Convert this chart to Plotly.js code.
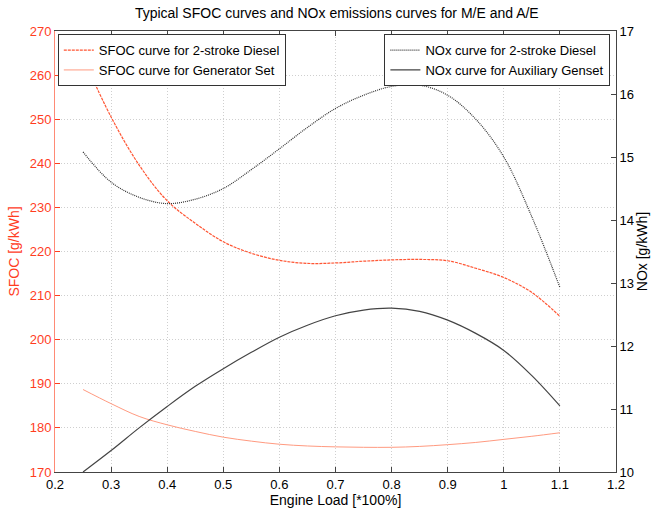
<!DOCTYPE html>
<html>
<head>
<meta charset="utf-8">
<script src="https://cdn.plot.ly/plotly-3.0.1.min.js"></script>
<style>html,body{margin:0;padding:0;background:#fff;}#chart{width:654px;height:511px;}</style>
</head>
<body>
<div id="chart"></div>
<script>
const engineLoad = [0.25,0.3,0.35,0.4,0.45,0.5,0.55,0.6,0.65,0.7,0.75,0.8,0.85,0.9,0.95,1.0,1.05,1.1];
const sfoc2Stroke = [264,250.5,239.6,231.5,226.4,222.2,219.6,218.0,217.3,217.4,217.8,218.1,218.2,217.9,216.2,214.1,210.7,205.3];
const sfocGenset = [188.7,185.5,182.6,180.7,179.2,177.9,177.0,176.3,175.9,175.7,175.6,175.6,175.8,176.2,176.7,177.4,178.1,178.9];
const nox2Stroke = [15.08,14.6,14.36,14.26,14.33,14.5,14.8,15.13,15.47,15.77,15.98,16.12,16.14,15.98,15.6,15.0,14.05,12.93];
const noxAux = [10.0,10.34,10.7,11.04,11.36,11.64,11.9,12.14,12.33,12.48,12.57,12.6,12.55,12.41,12.2,11.93,11.53,11.05];
const xTicks = [0.2,0.3,0.4,0.5,0.6,0.7,0.8,0.9,1,1.1,1.2];
const sfocTicks = [170,180,190,200,210,220,230,240,250,260,270];
const noxTicks = [10,11,12,13,14,15,16,17];

const FONT = "Liberation Sans, Arial, sans-serif";
const RED = "#ff3d1f";
const GRID = "#cfcfcf";

const traces = [
  {x: engineLoad, y: sfoc2Stroke, name: "SFOC curve for 2-stroke Diesel", mode: "lines",
   line: {color: "#ff5533", width: 1.2, shape: "spline", dash: "3px,1px"}, yaxis: "y", legend: "legend"},
  {x: engineLoad, y: sfocGenset, name: "SFOC curve for Generator Set", mode: "lines",
   line: {color: "#ff9a80", width: 1, shape: "spline"}, yaxis: "y", legend: "legend"},
  {x: engineLoad, y: nox2Stroke, name: "NOx curve for 2-stroke Diesel", mode: "lines",
   line: {color: "#333333", width: 1.2, shape: "spline", dash: "1px,1px"}, yaxis: "y2", legend: "legend2"},
  {x: engineLoad, y: noxAux, name: "NOx curve for Auxiliary Genset", mode: "lines",
   line: {color: "#444444", width: 1.2, shape: "spline"}, yaxis: "y2", legend: "legend2"}
];

const layout = {
  width: 654, height: 511,
  margin: {l: 55, r: 38, t: 31, b: 39},
  paper_bgcolor: "#fff", plot_bgcolor: "#fff",
  font: {family: FONT, size: 13, color: "#000"},
  title: {text: "Typical SFOC curves and NOx emissions curves for M/E and A/E",
          font: {family: FONT, size: 14, color: "#000"}, x: 0.515, xanchor: "center", y: 0.975, yanchor: "middle"},
  showlegend: true,
  xaxis: {range: [0.2, 1.2], tickvals: xTicks, ticktext: xTicks.map(String),
          ticks: "inside", ticklen: 5, tickcolor: "#444", showline: true, linecolor: "#444", linewidth: 1,
          mirror: "ticks", showgrid: true, gridcolor: GRID, griddash: "1px,2px", gridwidth: 1, zeroline: false,
          tickfont: {family: FONT, size: 13, color: "#000"},
          title: {text: "Engine Load [*100%]", font: {family: FONT, size: 14, color: "#000"}, standoff: 4}},
  yaxis: {range: [170, 270], tickvals: sfocTicks, ticks: "inside", ticklen: 5, tickcolor: RED,
          showline: true, linecolor: "#ff8a75", linewidth: 1, showgrid: true, gridcolor: GRID, griddash: "1px,2px",
          zeroline: false, tickfont: {family: FONT, size: 13, color: RED},
          title: {text: "SFOC [g/kWh]", font: {family: FONT, size: 14, color: RED}, standoff: 6}},
  yaxis2: {range: [10, 17], tickvals: noxTicks, overlaying: "y", side: "right", ticks: "inside", ticklen: 5,
           tickcolor: "#444", showline: true, linecolor: "#444", linewidth: 1, showgrid: false, zeroline: false,
           tickfont: {family: FONT, size: 13, color: "#000"},
           title: {text: "NOx [g/kWh]", font: {family: FONT, size: 14, color: "#000"}, standoff: 4}},
  legend: {x: 0.005, y: 0.993, xanchor: "left", yanchor: "top", bgcolor: "#fff", bordercolor: "#333", borderwidth: 1,
           font: {family: FONT, size: 13, color: "#000"}, tracegroupgap: 0, itemwidth: 30},
  legend2: {x: 0.99, y: 0.993, xanchor: "right", yanchor: "top", bgcolor: "#fff", bordercolor: "#333", borderwidth: 1,
            font: {family: FONT, size: 13, color: "#000"}, tracegroupgap: 0, itemwidth: 30}
};

Plotly.newPlot("chart", traces, layout, {displayModeBar: false, staticPlot: true});
</script>
</body>
</html>
